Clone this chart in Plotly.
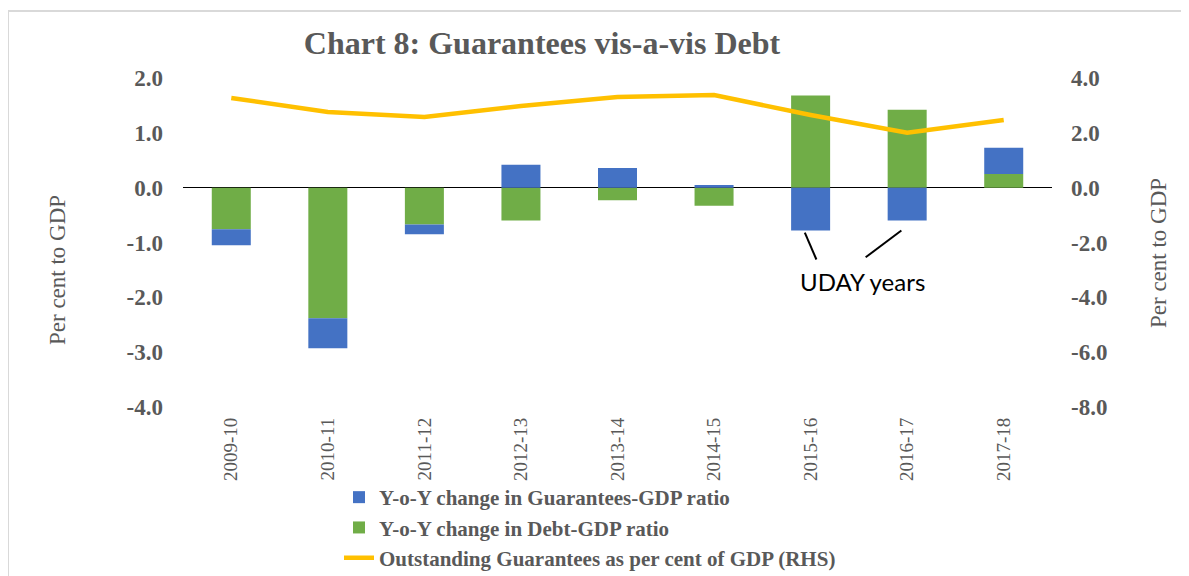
import plotly.graph_objects as go

years = ['2009-10', '2010-11', '2011-12', '2012-13', '2013-14',
         '2014-15', '2015-16', '2016-17', '2017-18']
guarantees_change = [-0.29, -0.55, -0.18, 0.42, 0.36, 0.05, -0.78, -0.60, 0.48]
debt_change = [-0.76, -2.38, -0.67, -0.60, -0.23, -0.33, 1.68, 1.42, 0.25]
outstanding_guarantees = [3.27, 2.76, 2.58, 2.98, 3.31, 3.38, 2.65, 2.00, 2.47]

left_ticks = [-4, -3, -2, -1, 0, 1, 2]
right_ticks = [-8, -6, -4, -2, 0, 2, 4]

name_g = 'Y-o-Y change in Guarantees-GDP ratio'
name_d = 'Y-o-Y change in Debt-GDP ratio'
name_o = 'Outstanding Guarantees as per cent of GDP (RHS)'

GRAY = '#595959'
SERIF = 'Liberation Serif'

fig = go.Figure()
fig.add_trace(go.Bar(x=years, y=debt_change, name=name_d, marker_color='#70AD47',
                     marker_line_width=0, legendrank=2))
fig.add_trace(go.Bar(x=years, y=guarantees_change, name=name_g, marker_color='#4472C4',
                     marker_line_width=0, legendrank=1))
fig.add_trace(go.Scatter(x=years, y=outstanding_guarantees, name=name_o, mode='lines',
                         line=dict(color='#FFC000', width=4.5), yaxis='y2', legendrank=3))

OFF = 8  # page body margin
W, H = 1189 - OFF, 576 - OFF
# plot area in page pixels
L, R, T, B = 183 - OFF, 1052 - OFF, 78 - OFF, 407 - OFF
pw, ph = R - L, B - T


def px(xp):
    return (xp - OFF - L) / pw


def py(yp):
    return (B - (yp - OFF)) / ph


fig.update_layout(
    width=W, height=H,
    margin=dict(l=L, r=W - R, t=T, b=H - B, autoexpand=False),
    paper_bgcolor='white', plot_bgcolor='white',
    barmode='relative', bargap=0.596,
    title=dict(text='<b>Chart 8: Guarantees vis-a-vis Debt</b>',
               font=dict(family=SERIF, size=32, color=GRAY),
               x=(542 - OFF) / W, xanchor='center', xref='container',
               y=1 - (43 - OFF) / H, yanchor='middle', yref='container'),
    xaxis=dict(type='category', showgrid=False, showline=False, ticks='',
               tickangle=-90, ticklabelstandoff=6,
               tickfont=dict(family=SERIF, size=19, color=GRAY),
               automargin=False),
    yaxis=dict(range=[-4, 2], tickvals=left_ticks,
               ticktext=[f'{v:.1f}' for v in left_ticks], showgrid=False,
               zeroline=True, zerolinecolor='black', zerolinewidth=1, showline=False,
               ticks='', ticklabelstandoff=19,
               tickfont=dict(family=SERIF, size=23, color=GRAY, weight='bold'),
               automargin=False),
    yaxis2=dict(range=[-8, 4], tickvals=right_ticks,
                ticktext=[f'{v:.1f}' for v in right_ticks], showgrid=False,
                zeroline=False, showline=False, overlaying='y', side='right',
                ticks='', ticklabelstandoff=18,
                tickfont=dict(family=SERIF, size=23, color=GRAY, weight='bold'),
                automargin=False),
    legend=dict(orientation='v', x=px(339), xanchor='left', y=py(477), yanchor='top',
                font=dict(family=SERIF, size=21, color=GRAY, weight='bold'),
                bgcolor='rgba(0,0,0,0)', tracegroupgap=0, itemwidth=30),
    showlegend=True,
)

# Axis titles
fig.add_annotation(text='Per cent to GDP', xref='paper', yref='paper',
                   x=px(57), y=py(270), textangle=-90, showarrow=False,
                   font=dict(family=SERIF, size=23, color=GRAY),
                   xanchor='center', yanchor='middle')
fig.add_annotation(text='Per cent to GDP', xref='paper', yref='paper',
                   x=px(1158), y=py(253), textangle=-90, showarrow=False,
                   font=dict(family=SERIF, size=23, color=GRAY),
                   xanchor='center', yanchor='middle')

# UDAY annotation with pointer lines
fig.add_annotation(text='UDAY years', xref='x', yref='y', x=6.54, y=-1.71,
                   showarrow=False, font=dict(family='Lato', size=24, color='black'),
                   xanchor='center', yanchor='middle')
fig.add_shape(type='line', xref='x', yref='y', x0=5.94, y0=-0.82, x1=6.06, y1=-1.31,
              line=dict(color='black', width=2))
fig.add_shape(type='line', xref='x', yref='y', x0=6.94, y0=-0.78, x1=6.57, y1=-1.27,
              line=dict(color='black', width=2))

# Outer chart border
fig.add_shape(type='rect', xref='paper', yref='paper',
              x0=px(8), x1=px(1210), y0=py(600), y1=py(11),
              line=dict(color='#D9D9D9', width=2), fillcolor='rgba(0,0,0,0)', layer='below')

fig.write_html('out.html')
